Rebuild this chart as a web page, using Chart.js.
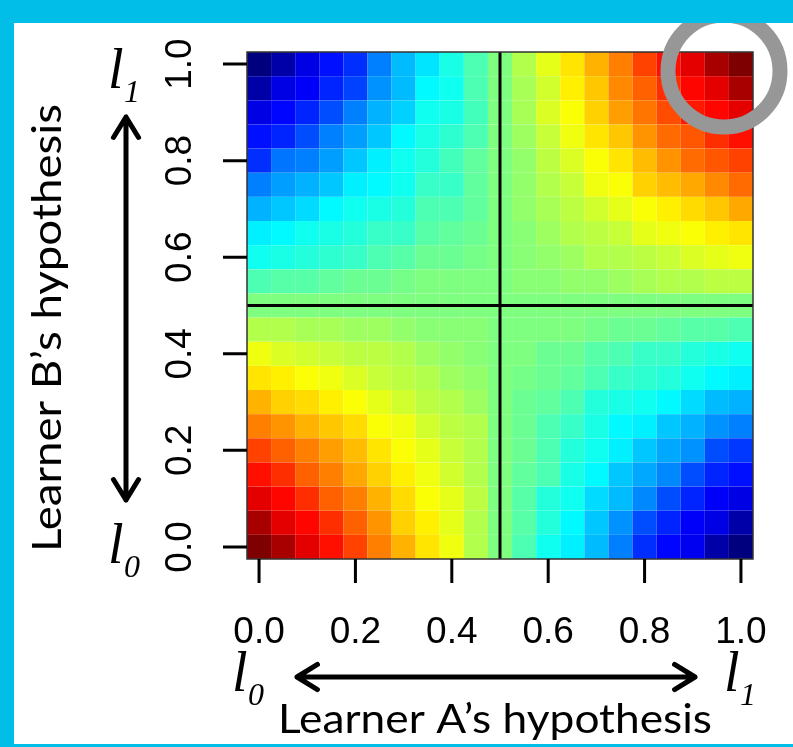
<!DOCTYPE html>
<html>
<head>
<meta charset="utf-8">
<script src="https://cdn.jsdelivr.net/npm/chart.js@4.4.1/dist/chart.umd.min.js"></script>
<style>
  html, body { margin: 0; padding: 0; background: #fff; }
  canvas { display: block; }
</style>
</head>
<body>
<canvas id="heat" width="793" height="747"></canvas>
<script>
// ── DATA ─────────────────────────────────────────────
// hypothesis grid for learner A (columns) and learner B (rows)
const xVals = [0, 0.05, 0.1, 0.15, 0.2, 0.25, 0.3, 0.35, 0.4, 0.45, 0.5,
               0.55, 0.6, 0.65, 0.7, 0.75, 0.8, 0.85, 0.9, 0.95, 1];
const yVals = [1, 0.95, 0.9, 0.85, 0.8, 0.75, 0.7, 0.65, 0.6, 0.55, 0.5,
               0.45, 0.4, 0.35, 0.3, 0.25, 0.2, 0.15, 0.1, 0.05, 0];

// colour level of each cell (0 = dark blue .. 100 = dark red), rows from top (y=1.0) down
const heatRows = [
  [  0,  4, 10, 14, 17, 25, 31, 35, 40, 45, 50, 55, 60, 65, 70, 75, 81, 86, 90, 96,100],
  [  4, 10, 12, 16, 19, 27, 31, 37, 39, 45, 50, 54, 58, 64, 68, 74, 78, 83, 87, 90, 96],
  [ 10, 13, 16, 20, 25, 30, 33, 39, 40, 44, 50, 54, 59, 62, 67, 72, 76, 80, 85, 87, 90],
  [ 14, 16, 20, 25, 28, 32, 37, 40, 42, 45, 50, 53, 57, 61, 65, 68, 73, 77, 79, 83, 86],
  [ 17, 24, 25, 28, 32, 36, 39, 41, 44, 47, 50, 52, 56, 59, 62, 65, 69, 73, 77, 79, 81],
  [ 25, 28, 30, 32, 36, 37, 39, 43, 43, 47, 50, 52, 55, 57, 61, 62, 67, 69, 71, 74, 77],
  [ 30, 32, 34, 37, 39, 40, 41, 45, 45, 47, 50, 52, 54, 56, 58, 60, 62, 64, 66, 68, 71],
  [ 36, 37, 39, 40, 41, 43, 43, 46, 47, 48, 50, 51, 53, 55, 56, 57, 60, 61, 62, 64, 65],
  [ 39, 40, 41, 42, 43, 45, 46, 48, 48, 49, 50, 51, 52, 53, 55, 55, 56, 57, 59, 60, 61],
  [ 45, 46, 46, 47, 48, 48, 49, 50, 50, 50, 50, 51, 51, 52, 52, 53, 54, 55, 55, 56, 56],
  [ 50, 50, 50, 50, 50, 50, 50, 50, 50, 50, 50, 50, 50, 50, 50, 50, 50, 50, 50, 50, 50],
  [ 55, 55, 54, 54, 53, 53, 52, 51, 51, 51, 50, 50, 50, 50, 49, 48, 48, 47, 46, 46, 45],
  [ 61, 59, 58, 57, 56, 56, 55, 53, 52, 51, 50, 50, 48, 48, 46, 45, 43, 43, 41, 40, 39],
  [ 65, 64, 62, 61, 59, 57, 56, 55, 53, 52, 50, 49, 48, 47, 45, 43, 42, 41, 39, 37, 36],
  [ 70, 67, 66, 64, 62, 60, 58, 56, 55, 53, 50, 48, 47, 45, 41, 40, 39, 37, 34, 31, 30],
  [ 75, 73, 70, 68, 66, 62, 61, 58, 56, 55, 50, 48, 45, 43, 40, 37, 36, 32, 30, 27, 25],
  [ 81, 78, 75, 72, 69, 65, 62, 60, 57, 55, 50, 48, 45, 41, 39, 36, 32, 29, 27, 20, 18],
  [ 86, 83, 78, 75, 71, 67, 64, 61, 58, 55, 50, 47, 45, 40, 37, 32, 29, 26, 20, 16, 14],
  [ 90, 87, 83, 78, 75, 70, 66, 62, 60, 56, 50, 46, 41, 39, 34, 31, 26, 20, 16, 12, 10],
  [ 96, 90, 87, 83, 78, 73, 67, 64, 60, 55, 50, 46, 41, 37, 32, 27, 20, 16, 12, 10,  4],
  [100, 96, 90, 86, 81, 75, 70, 65, 61, 55, 50, 45, 39, 36, 31, 25, 17, 13, 11,  4,  0],
];

const tickVals = [0, 0.2, 0.4, 0.6, 0.8, 1];
const tickLabels = ['0.0', '0.2', '0.4', '0.6', '0.8', '1.0'];
const xTitle = 'Learner A\u2019s hypothesis';
const yTitle = 'Learner B\u2019s hypothesis';

// ── COLOUR RAMP (jet) ───────────────────────────────
const jetStops = [
  [0, [0, 0, 127]], [0.125, [0, 0, 255]], [0.25, [0, 127, 255]],
  [0.375, [0, 255, 255]], [0.5, [127, 255, 127]], [0.625, [255, 255, 0]],
  [0.75, [255, 127, 0]], [0.875, [255, 0, 0]], [1, [127, 0, 0]],
];
function jet(level) {
  const t = Math.max(0, Math.min(1, level / 100));
  for (let i = 1; i < jetStops.length; i++) {
    const [t1, c1] = jetStops[i];
    if (t <= t1) {
      const [t0, c0] = jetStops[i - 1];
      const f = (t - t0) / (t1 - t0);
      const c = c0.map((v, k) => Math.round(v + (c1[k] - v) * f));
      return `rgb(${c[0]},${c[1]},${c[2]})`;
    }
  }
  return 'rgb(127,0,0)';
}

const cells = [];
yVals.forEach((y, r) => {
  xVals.forEach((x, c) => cells.push({ x, y, v: heatRows[r][c] }));
});

// ── DECORATION: frame, axes, arrows, labels ─────────
function arrow(ctx, x0, y0, x1, y1) {
  const a = Math.atan2(y1 - y0, x1 - x0);
  const len = 24, spread = 0.55;
  ctx.beginPath();
  ctx.moveTo(x0, y0); ctx.lineTo(x1, y1);
  [[x0, y0, a + Math.PI], [x1, y1, a]].forEach(([px, py, ang]) => {
    ctx.moveTo(px - len * Math.cos(ang - spread), py - len * Math.sin(ang - spread));
    ctx.lineTo(px, py);
    ctx.lineTo(px - len * Math.cos(ang + spread), py - len * Math.sin(ang + spread));
  });
  ctx.stroke();
}

function ell(ctx, x, base, sub) {
  ctx.textAlign = 'left';
  ctx.textBaseline = 'alphabetic';
  ctx.font = 'italic 56px "Liberation Serif"';
  ctx.fillText('l', x, base);
  ctx.font = 'italic 32px "Liberation Serif"';
  ctx.fillText(sub, x + 16, base + 14);
}

function fitText(ctx, text, width) {
  const w = ctx.measureText(text).width;
  return width / w;
}

const decor = {
  id: 'decor',
  beforeDraw(chart) {
    const ctx = chart.ctx;
    ctx.save();
    ctx.fillStyle = '#fff';
    ctx.fillRect(0, 0, chart.width, chart.height);
    ctx.restore();
  },
  afterDatasetsDraw(chart) {
    const { ctx, chartArea: a, scales: { x, y } } = chart;
    ctx.save();
    // split lines at 0.5
    ctx.strokeStyle = '#000';
    ctx.lineWidth = 3;
    ctx.beginPath();
    ctx.moveTo(x.getPixelForValue(0.5), a.top);
    ctx.lineTo(x.getPixelForValue(0.5), a.bottom);
    ctx.moveTo(a.left, y.getPixelForValue(0.5));
    ctx.lineTo(a.right, y.getPixelForValue(0.5));
    ctx.stroke();
    // frame
    ctx.strokeStyle = '#333';
    ctx.lineWidth = 1.5;
    ctx.strokeRect(a.left, a.top, a.right - a.left, a.bottom - a.top);
    ctx.restore();
  },
  afterDraw(chart) {
    const { ctx, chartArea: a, scales: { x, y } } = chart;
    ctx.save();
    ctx.fillStyle = '#000';
    ctx.strokeStyle = '#000';
    ctx.lineWidth = 3;

    // ticks
    ctx.beginPath();
    tickVals.forEach(v => {
      const px = x.getPixelForValue(v);
      ctx.moveTo(px, a.bottom); ctx.lineTo(px, a.bottom + 24);
      const py = y.getPixelForValue(v);
      ctx.moveTo(a.left, py); ctx.lineTo(a.left - 24, py);
    });
    ctx.stroke();

    ctx.font = '37px "Liberation Sans"';
    ctx.textAlign = 'center';
    ctx.textBaseline = 'alphabetic';
    tickVals.forEach((v, i) => {
      ctx.fillText(tickLabels[i], x.getPixelForValue(v), 643);
      ctx.save();
      ctx.translate(191, y.getPixelForValue(v));
      ctx.rotate(-Math.PI / 2);
      ctx.fillText(tickLabels[i], 0, 0);
      ctx.restore();
    });

    // axis titles
    ctx.font = '40px Lato';
    let s = fitText(ctx, xTitle, 434);
    ctx.save();
    ctx.translate(495, 733);
    ctx.scale(s, 1);
    ctx.fillText(xTitle, 0, 0);
    ctx.restore();

    s = fitText(ctx, yTitle, 448);
    ctx.save();
    ctx.translate(61, 328);
    ctx.rotate(-Math.PI / 2);
    ctx.scale(s, 1);
    ctx.fillText(yTitle, 0, 0);
    ctx.restore();

    // arrows
    ctx.lineWidth = 5;
    ctx.lineCap = 'round';
    ctx.lineJoin = 'round';
    arrow(ctx, 126, 117, 126, 500);
    arrow(ctx, 297, 677, 695, 677);

    // l0 / l1 endpoints
    ell(ctx, 108, 88, '1');
    ell(ctx, 108, 563, '0');
    ell(ctx, 232, 691, '0');
    ell(ctx, 724, 691, '1');

    // highlight ring
    ctx.strokeStyle = '#979797';
    ctx.lineWidth = 15;
    ctx.beginPath();
    ctx.arc(724, 71, 56, 0, Math.PI * 2);
    ctx.stroke();

    // slide border
    ctx.fillStyle = '#00bee8';
    ctx.fillRect(0, 0, chart.width, 23);
    ctx.fillRect(0, 0, 14, chart.height);
    ctx.fillRect(0, 744, chart.width, 3);
    ctx.restore();
  }
};

// ── CHART ────────────────────────────────────────────
const cellRadius = chart => {
  const xs = chart.scales.x;
  const w = Math.abs(xs.getPixelForValue(0.05) - xs.getPixelForValue(0));
  return w / Math.SQRT2;
};

new Chart(document.getElementById('heat'), {
  type: 'scatter',
  data: {
    datasets: [{
      data: cells,
      pointStyle: 'rect',
      pointRadius: c => cellRadius(c.chart),
      pointHoverRadius: c => cellRadius(c.chart),
      pointBackgroundColor: c => jet(c.raw ? c.raw.v : 50),
      pointBorderWidth: 0,
      clip: false,
    }]
  },
  options: {
    responsive: false,
    animation: false,
    events: [],
    layout: { padding: { left: 247, right: 40, top: 52, bottom: 188 } },
    scales: {
      x: { type: 'linear', min: -0.025, max: 1.025, display: false },
      y: { type: 'linear', min: -0.025, max: 1.025, display: false },
    },
    plugins: { legend: { display: false }, tooltip: { enabled: false } }
  },
  plugins: [decor]
});
</script>
</body>
</html>
